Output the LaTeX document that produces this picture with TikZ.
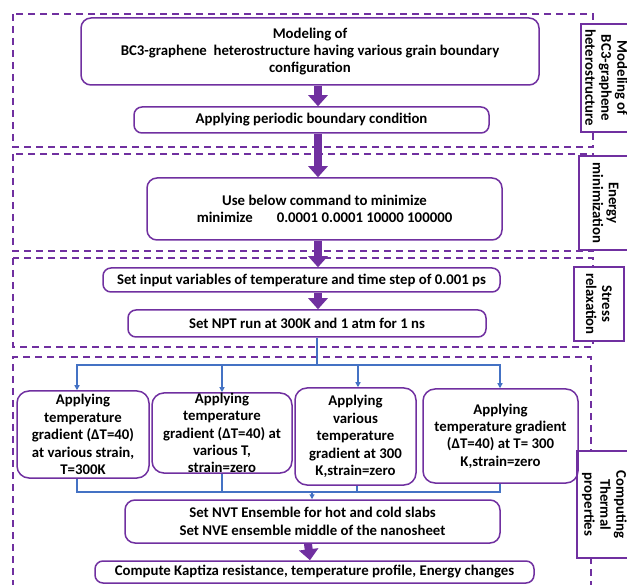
\documentclass[tikz,border=0pt]{standalone}
\usepackage{fontspec}
\setmainfont{Carlito}
\usetikzlibrary{arrows.meta}
\definecolor{stagepurple}{HTML}{7030A0}
\definecolor{linkblue}{HTML}{4472C4}

\begin{document}
\begin{tikzpicture}[x=1pt, y=-1pt,
		procbox/.style={draw=stagepurple, line width=1.5pt, rounded corners=8pt, align=center, inner sep=0pt, font=\bfseries\fontsize{14.8}{17.4}\selectfont},
		sidebox/.style={draw=stagepurple, fill=white, line width=1.5pt, rotate=-90, align=center, inner sep=0pt, font=\bfseries\fontsize{14.8}{16}\selectfont},
		stagebox/.style={draw=stagepurple, line width=1.8pt, dash pattern=on 7pt off 5pt},
		fatarrow/.style={draw=stagepurple, line width=8pt, -{Triangle[width=19pt,length=11pt]}},
		bluelink/.style={draw=linkblue, line width=1.2pt},
		bluearrow/.style={bluelink, -{Triangle[width=5pt,length=5pt]}}]
		\useasboundingbox (0,0) rectangle (627,585);
		% dashed stages
		\draw[stagebox] (13,14) rectangle (593,147);
		\draw[stagebox] (13,154) rectangle (593,251);
		\draw[stagebox] (13,258) rectangle (593,347);
		\draw[stagebox] (591,600) -- (591,357) -- (13,357) -- (13,600);
		% stage labels
		\node (SMOD) at (606.5, 78) [sidebox, minimum width=108pt, minimum height=51pt] {Modeling of\\BC3-graphene\\heterostructure};
		\node (SMIN) at (605.5,203) [sidebox, minimum width=94pt, minimum height=53pt] {Energy\\minimization};
		\node (SREL) at (599,304) [sidebox, minimum width=74pt, minimum height=50pt] {Stress\\relaxation};
		\node (STHM) at (604.5,504.5) [sidebox, minimum width=107pt, minimum height=55pt] {Computing\\Thermal\\properties};
		% steps
		\node (MOD) at (310,51.5) [procbox, rounded corners=10pt, minimum width=458pt, minimum height=67pt] {Modeling of\\BC3-graphene\ \ heterostructure having various grain boundary\\configuration};
		\node (PBC) at (311.5,120) [procbox, minimum width=355pt, minimum height=26pt] {Applying periodic boundary condition};
		\node (MIN) at (324.5,209) [procbox, rounded corners=10pt, minimum width=355pt, minimum height=62pt] {Use below command to minimize\\minimize\hspace{24pt}0.0001 0.0001 10000 100000};
		\node (INP) at (301.5,280) [procbox, minimum width=397pt, minimum height=24pt] {Set input variables of temperature and time step of 0.001 ps};
		\node (NPT) at (307,323.5) [procbox, minimum width=358pt, minimum height=27pt] {Set NPT run at 300K and 1 atm for 1 ns};
		\node (G1) at (83,434.5) [procbox, rounded corners=12pt, minimum width=132pt, minimum height=87pt] {Applying\\temperature\\gradient (ΔT=40)\\at various strain,\\T=300K};
		\node (G2) at (222,433) [procbox, rounded corners=12pt, minimum width=140pt, minimum height=80pt] {Applying\\temperature\\gradient (ΔT=40) at\\various T,\\strain=zero};
		\node (G3) at (355.5,436.5) [procbox, rounded corners=12pt, minimum width=121pt, minimum height=97pt] {Applying\\various\\temperature\\gradient at 300\\K,strain=zero};
		\node (G4) at (500.5,436) [procbox, rounded corners=12pt, minimum width=155pt, minimum height=94pt] {Applying\\temperature gradient\\(ΔT=40) at T= 300\\K,strain=zero};
		\node (ENS) at (312.5,521.5) [procbox, rounded corners=10pt, minimum width=375pt, minimum height=43pt] {Set NVT Ensemble for hot and cold slabs\\Set NVE ensemble middle of the nanosheet};
		\node (KAP) at (314.5,572) [procbox, minimum width=439pt, minimum height=22pt] {Compute Kaptiza resistance, temperature profile, Energy changes};
		% main flow
		\coordinate (axis) at (318,0);
		\draw[fatarrow] (MOD.south -| axis) -- (PBC.north -| axis);
		\draw[fatarrow] (PBC.south -| axis) -- (MIN.north -| axis);
		\draw[fatarrow] (MIN.south -| axis) -- (INP.north -| axis);
		\draw[fatarrow] (INP.south -| axis) -- (NPT.north -| axis);
		\draw[fatarrow] ([xshift=-4.5pt]ENS.south) -- ([xshift=-4.5pt]KAP.north);
		% branches
		\coordinate (split) at (317,365);
		\coordinate (merge) at (312,492);
		\draw[bluelink] (NPT.south -| split) -- (split);
		\draw[bluearrow] (split) -| ([xshift=-6pt]G1.north);
		\draw[bluearrow] (split) -| (G2.north);
		\draw[bluearrow] (split) -| ([xshift=2.5pt]G3.north);
		\draw[bluearrow] (split) -| ([xshift=-0.5pt]G4.north);
		\draw[bluelink] ([xshift=-6pt]G1.south) |- (merge);
		\draw[bluelink] ([xshift=-0.5pt]G4.south) |- (merge);
		\draw[bluelink] (G2.south) -- (G2.south |- merge);
		\draw[bluelink] ([xshift=1.5pt]G3.south) -- ([xshift=1.5pt]G3.south |- merge);
		\draw[bluearrow] (merge) -- (ENS.north -| merge);
\end{tikzpicture}
\end{document}
